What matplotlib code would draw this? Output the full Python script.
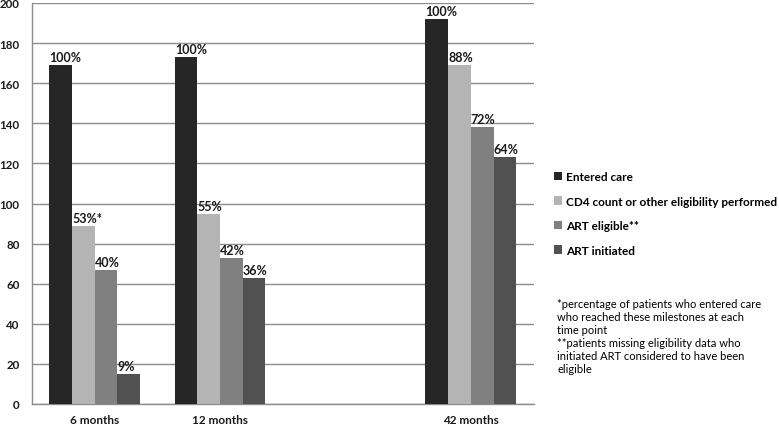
import matplotlib
matplotlib.use("Agg")
import matplotlib.pyplot as plt
import numpy as np

plt.rcParams['font.family'] = ['Lato', 'DejaVu Sans']

categories = ["6 months", "12 months", "42 months"]
cat_positions = [0, 1, 3]  # empty slot between 12 and 42 months
series_names = ["Entered care", "CD4 count or other eligibility performed",
                "ART eligible**", "ART initiated"]
entered_care = [169, 173, 192]
cd4_performed = [89, 95, 169]
art_eligible = [67, 73, 138]
art_initiated = [15, 63, 123]
labels_entered = ["100%", "100%", "100%"]
labels_cd4 = ["53%*", "55%", "88%"]
labels_eligible = ["40%", "42%", "72%"]
labels_initiated = ["9%", "36%", "64%"]
yticks = list(range(0, 201, 20))

series = [entered_care, cd4_performed, art_eligible, art_initiated]
labels = [labels_entered, labels_cd4, labels_eligible, labels_initiated]
colors = ["#262626", "#b4b4b4", "#808080", "#515151"]

fig = plt.figure(figsize=(7.79, 4.27), dpi=100)
ax = fig.add_axes([32/779, 1-405/427, (533.5-32)/779, 401/427])

bw = 0.181
x = np.array(cat_positions, dtype=float)
for i, (vals, labs, c) in enumerate(zip(series, labels, colors)):
    xs = x + (i - 1.5) * bw
    ax.bar(xs, vals, width=bw, color=c, zorder=3, label=series_names[i])
    for xi, v, lab in zip(xs, vals, labs):
        ax.text(xi - bw/2, v + 1.0, lab, ha='left', va='bottom', fontsize=9,
                fontweight='bold', color='#1a1a1a', zorder=4)

ax.set_xlim(-0.5, 3.5)
ax.set_ylim(0, 200)
ax.set_yticks(yticks)
ax.set_xticks(cat_positions)
ax.set_xticklabels(categories)
ax.tick_params(length=0, labelsize=8.5, colors='#1a1a1a')
ax.tick_params(axis='y', labelsize=8.3)
for lab in ax.get_yticklabels() + ax.get_xticklabels():
    lab.set_fontweight('bold')
ax.tick_params(axis='x', pad=7)
ax.tick_params(axis='y', pad=9)
ax.yaxis.grid(True, color='#8c8c8c', linewidth=1.0, zorder=0)
for s in ['top', 'right']:
    ax.spines[s].set_visible(False)
for s in ['left', 'bottom']:
    ax.spines[s].set_color('#8c8c8c')
    ax.spines[s].set_linewidth(1.0)

handles, hl = ax.get_legend_handles_labels()
leg = fig.legend(handles, hl, loc='upper left', bbox_to_anchor=(554/779, 1-172/427),
                 frameon=False, fontsize=8.5, handlelength=0.7, handleheight=0.7,
                 handletextpad=0.3, labelspacing=1.15, borderaxespad=0, borderpad=0)
for t in leg.get_texts():
    t.set_fontweight('bold')

footnote = ("*percentage of patients who entered care\n"
            "who reached these milestones at each\n"
            "time point\n"
            "**patients missing eligibility data who\n"
            "initiated ART considered to have been\n"
            "eligible")
fig.text(557/779, 1-299/427, footnote, ha='left', va='top', fontsize=8,
         linespacing=1.22, color='#000000')

fig.savefig("out.png", dpi=100)
